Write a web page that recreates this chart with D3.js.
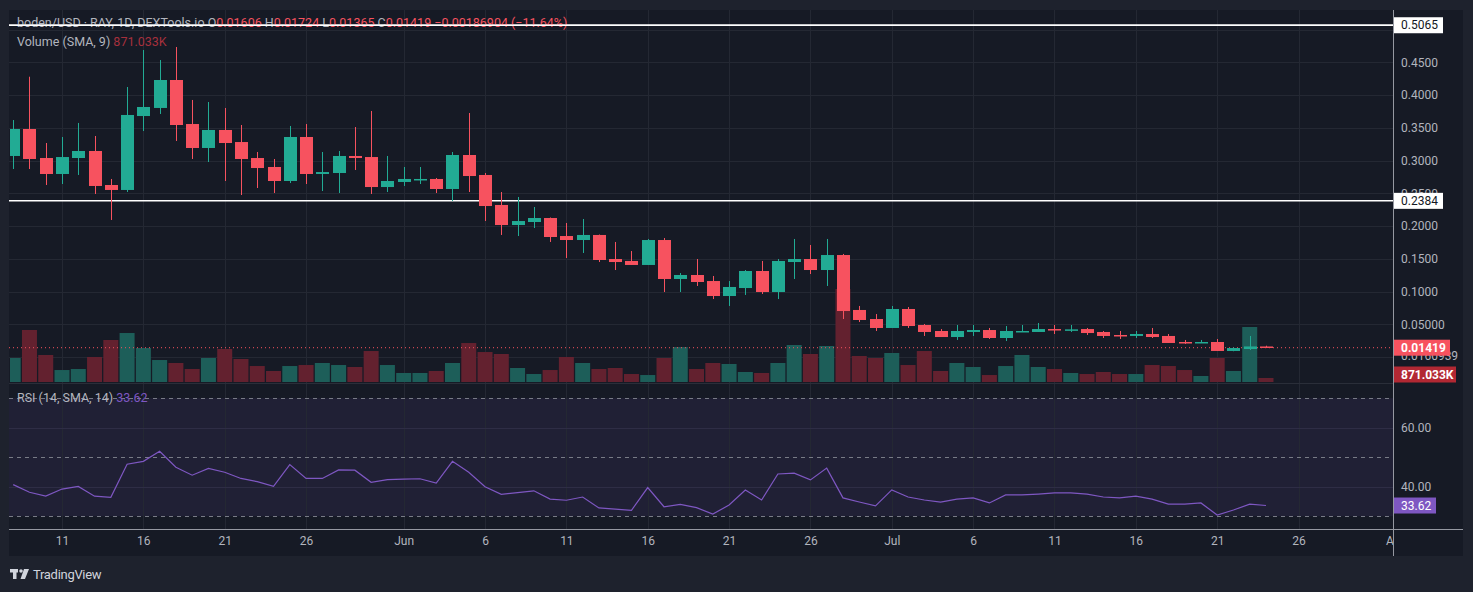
<!DOCTYPE html>
<html>
<head>
<meta charset="utf-8">
<script src="https://cdn.jsdelivr.net/npm/d3@7"></script>
<style>
  html, body { margin: 0; padding: 0; background: #1e222d; }
  svg { display: block; }
  text { font-family: Roboto, "Noto Sans", sans-serif; }
</style>
</head>
<body>
<svg id="chart" width="1473" height="592"></svg>
<script>
// boden/USD daily candles, 8 May - 24 Jul
var firstDay = Date.UTC(2024, 4, 8);
var lastDay = Date.UTC(2024, 7, 1);

var opens = [0.3069, 0.3481, 0.3038, 0.2794, 0.3038, 0.3145, 0.2626, 0.2550, 0.3679, 0.3802,
  0.4229, 0.3557, 0.3191, 0.3466, 0.3282, 0.3038, 0.2901, 0.2687, 0.3359, 0.2794,
  0.2809, 0.3069, 0.3053, 0.2595, 0.2672, 0.2702, 0.2718, 0.2565, 0.3084, 0.2779,
  0.2321, 0.2015, 0.2061, 0.2122, 0.1847, 0.1786, 0.1863, 0.1496, 0.1466, 0.1405,
  0.1786, 0.1191, 0.1252, 0.1160, 0.0931, 0.1053, 0.1313, 0.0992, 0.1450, 0.1496,
  0.1328, 0.1557, 0.0718, 0.0580, 0.0443, 0.0733, 0.0489, 0.0397, 0.0305, 0.0382,
  0.0412, 0.0290, 0.0382, 0.0382, 0.0427, 0.0412, 0.0427, 0.0382, 0.0336, 0.0321,
  0.0351, 0.0321, 0.0229, 0.0214, 0.0229, 0.0092, 0.0122, 0.01606];
var highs = [0.3618, 0.4279, 0.3267, 0.3359, 0.3573, 0.3374, 0.2718, 0.4122, 0.4687, 0.4534,
  0.4733, 0.3924, 0.3893, 0.3802, 0.3542, 0.3130, 0.3023, 0.3527, 0.3557, 0.3130,
  0.3145, 0.3511, 0.3756, 0.3069, 0.2901, 0.2901, 0.2733, 0.3130, 0.3725, 0.2809,
  0.2519, 0.2443, 0.2290, 0.2130, 0.2046, 0.2107, 0.1870, 0.1756, 0.1618, 0.1802,
  0.1817, 0.1282, 0.1496, 0.1237, 0.1160, 0.1328, 0.1466, 0.1496, 0.1802, 0.1710,
  0.1802, 0.1573, 0.0779, 0.0656, 0.0779, 0.0763, 0.0504, 0.0427, 0.0489, 0.0489,
  0.0443, 0.0473, 0.0489, 0.0519, 0.0489, 0.0489, 0.0443, 0.0397, 0.0397, 0.0397,
  0.0443, 0.0351, 0.0260, 0.0260, 0.0275, 0.0145, 0.0321, 0.01724];
var lows = [0.2870, 0.2870, 0.2626, 0.2641, 0.2779, 0.2489, 0.2092, 0.2519, 0.3450, 0.3710,
  0.3298, 0.3023, 0.2977, 0.2687, 0.2473, 0.2580, 0.2504, 0.2656, 0.2641, 0.2534,
  0.2504, 0.2855, 0.2489, 0.2519, 0.2611, 0.2641, 0.2504, 0.2382, 0.2519, 0.2076,
  0.1863, 0.1847, 0.1969, 0.1756, 0.1511, 0.1588, 0.1450, 0.1328, 0.1405, 0.1405,
  0.0992, 0.0992, 0.1084, 0.0885, 0.0779, 0.0947, 0.0962, 0.0885, 0.1191, 0.1267,
  0.1084, 0.0580, 0.0534, 0.0397, 0.0443, 0.0443, 0.0321, 0.0305, 0.0260, 0.0321,
  0.0275, 0.0244, 0.0382, 0.0382, 0.0351, 0.0382, 0.0336, 0.0290, 0.0275, 0.0290,
  0.0290, 0.0214, 0.0198, 0.0214, 0.0092, 0.0088, 0.0107, 0.01365];
var closes = [0.3481, 0.3023, 0.2794, 0.3053, 0.3145, 0.2611, 0.2550, 0.3695, 0.3817, 0.4229,
  0.3542, 0.3191, 0.3466, 0.3267, 0.3023, 0.2885, 0.2687, 0.3359, 0.2794, 0.2824,
  0.3069, 0.3038, 0.2595, 0.2687, 0.2718, 0.2718, 0.2565, 0.3084, 0.2763, 0.2305,
  0.2015, 0.2076, 0.2122, 0.1832, 0.1786, 0.1863, 0.1481, 0.1450, 0.1405, 0.1786,
  0.1191, 0.1252, 0.1145, 0.0931, 0.1069, 0.1313, 0.0992, 0.1466, 0.1496, 0.1328,
  0.1557, 0.0702, 0.0565, 0.0443, 0.0733, 0.0473, 0.0382, 0.0305, 0.0397, 0.0412,
  0.0290, 0.0397, 0.0397, 0.0427, 0.0412, 0.0422, 0.0366, 0.0321, 0.0321, 0.0351,
  0.0305, 0.0214, 0.0214, 0.0229, 0.0092, 0.0137, 0.0161, 0.01419];
// volume in millions
var volumes = [5.23, 11.33, 5.88, 2.61, 2.83, 5.45, 9.15, 10.67, 7.41, 4.79,
  4.14, 2.83, 5.23, 7.19, 5.01, 3.48, 2.40, 3.48, 3.70, 4.14,
  3.70, 3.27, 6.75, 3.70, 1.96, 1.96, 2.40, 4.14, 8.49, 6.53,
  6.10, 3.05, 1.74, 2.61, 5.45, 4.14, 2.83, 3.05, 1.74, 1.52,
  5.23, 7.62, 2.83, 4.14, 3.92, 2.18, 1.96, 4.14, 8.06, 6.10,
  7.84, 20.26, 5.66, 5.23, 6.32, 3.70, 6.75, 2.40, 4.14, 3.27,
  1.52, 3.48, 5.88, 3.27, 2.83, 1.96, 1.74, 2.18, 1.74, 1.74,
  3.70, 3.48, 2.61, 1.31, 5.23, 2.40, 11.98, 0.871];
var rsiValues = [40.7, 38.1, 36.8, 39.2, 40.1, 36.8, 36.4, 47.6, 48.6, 52.0,
  46.6, 43.9, 46.2, 44.9, 42.8, 41.7, 40.1, 47.5, 42.8, 42.8,
  45.7, 45.6, 41.5, 42.4, 42.6, 42.7, 41.2, 48.6, 44.9, 40.0,
  37.4, 38.0, 38.6, 35.8, 35.4, 36.5, 32.8, 32.4, 32.0, 39.7,
  33.2, 34.0, 32.9, 30.7, 33.8, 38.9, 35.5, 44.3, 44.6, 42.3,
  46.3, 36.2, 34.8, 33.5, 38.9, 36.5, 35.5, 34.8, 35.8, 36.2,
  34.5, 37.2, 37.2, 37.5, 37.9, 37.9, 37.5, 36.5, 36.2, 36.8,
  35.8, 34.1, 34.1, 34.5, 30.4, 32.1, 34.1, 33.62];

var priceTicks = [0.05, 0.10, 0.15, 0.20, 0.25, 0.30, 0.35, 0.40, 0.45];
var priceTickLabels = ["0.05000", "0.1000", "0.1500", "0.2000", "0.2500", "0.3000", "0.3500", "0.4000", "0.4500"];
var priceGrid = [0, 0.05, 0.10, 0.15, 0.20, 0.25, 0.30, 0.35, 0.40, 0.45, 0.50];
var rsiTicks = [40, 60];
var rsiTickLabels = ["40.00", "60.00"];
var rsiBands = [30, 50, 70];
var timeTicks = [[2024, 4, 11], [2024, 4, 16], [2024, 4, 21], [2024, 4, 26], [2024, 5, 1], [2024, 5, 6],
  [2024, 5, 11], [2024, 5, 16], [2024, 5, 21], [2024, 5, 26], [2024, 6, 1], [2024, 6, 6], [2024, 6, 11],
  [2024, 6, 16], [2024, 6, 21], [2024, 6, 26], [2024, 7, 1]];
var timeTickLabels = ["11", "16", "21", "26", "Jun", "6", "11", "16", "21", "26", "Jul", "6", "11", "16", "21", "26", "Aug"];
var levelLines = [0.5065, 0.2384];
var levelLabels = ["0.5065", "0.2384"];
var lastPrice = 0.01419;

var UP = "#22ab94", DOWN = "#f7525f";
var VOL_UP = "#1d5e59", VOL_DOWN = "#63212f";
var TXT = "#b2b5be", GRID = "#242833";

var svg = d3.select("#chart");
var left = 9, right = 1393, paneTop = 10, axisRight = 1463, mainBottom = 382, rsiTop = 384, rsiBottom = 529, timeBottom = 556;

var dates = d3.range(opens.length).map(function (i) { return new Date(firstDay + i * 864e5); });
var tickDates = timeTicks.map(function (t) { return new Date(Date.UTC(t[0], t[1], t[2])); });

var x = d3.scaleUtc().domain([new Date(firstDay), new Date(lastDay)]).range([13.2, 13.2 + 85 * 16.27]);
var y = d3.scaleLinear().domain([0, 0.5]).range([357, 29.5]);
var yVol = d3.scaleLinear().domain([0, 21]).range([382, 382 - 21 / 0.2178]);
var yRsi = d3.scaleLinear().domain([30, 70]).range([516.2, 398.2]);

// backgrounds
svg.append("rect").attr("x", 0).attr("y", 0).attr("width", 1473).attr("height", 592).attr("fill", "#1e222d");
svg.append("rect").attr("x", left).attr("y", paneTop).attr("width", axisRight - left).attr("height", timeBottom - paneTop).attr("fill", "#161a25");
svg.append("rect").attr("x", left).attr("y", yRsi(70)).attr("width", right - left).attr("height", yRsi(30) - yRsi(70)).attr("fill", "rgba(126,87,194,0.1)");

var defs = svg.append("defs");
defs.append("clipPath").attr("id", "mainClip").append("rect").attr("x", left + 1).attr("y", paneTop).attr("width", right - left - 1).attr("height", mainBottom - paneTop);
defs.append("clipPath").attr("id", "rsiClip").append("rect").attr("x", left + 1).attr("y", rsiTop).attr("width", right - left - 1).attr("height", rsiBottom - rsiTop);
defs.append("clipPath").attr("id", "timeClip").append("rect").attr("x", left).attr("y", rsiBottom).attr("width", right - left).attr("height", timeBottom - rsiBottom);

// grid
var grid = svg.append("g");
grid.selectAll(".vg").data(tickDates.slice(0, 16)).enter().append("line")
  .attr("x1", function (d) { return Math.round(x(d)) + 0.5; }).attr("x2", function (d) { return Math.round(x(d)) + 0.5; })
  .attr("y1", paneTop).attr("y2", rsiBottom).attr("stroke", GRID);
grid.selectAll(".hg").data(priceGrid).enter().append("line")
  .attr("x1", left).attr("x2", right)
  .attr("y1", function (d) { return Math.round(y(d)) + 0.5; }).attr("y2", function (d) { return Math.round(y(d)) + 0.5; })
  .attr("stroke", GRID);
grid.selectAll(".rg").data(rsiTicks).enter().append("line")
  .attr("x1", left).attr("x2", right)
  .attr("y1", function (d) { return Math.round(yRsi(d)) + 0.5; }).attr("y2", function (d) { return Math.round(yRsi(d)) + 0.5; })
  .attr("stroke", "#2e2d45");
// pane separator
svg.append("line").attr("x1", left).attr("x2", right).attr("y1", 383.5).attr("y2", 383.5).attr("stroke", "#2a2e39");

// volume
var vol = svg.append("g").attr("clip-path", "url(#mainClip)");
vol.selectAll("rect").data(volumes).enter().append("rect")
  .attr("x", function (d, i) { return x(dates[i]) - 7.5; })
  .attr("width", 15)
  .attr("y", function (d) { return yVol(d); })
  .attr("height", function (d) { return yVol(0) - yVol(d); })
  .attr("fill", function (d, i) { return closes[i] >= opens[i] ? VOL_UP : VOL_DOWN; });

// level lines
svg.selectAll(".lvl").data(levelLines).enter().append("line")
  .attr("x1", left).attr("x2", right)
  .attr("y1", function (d) { return y(d); }).attr("y2", function (d) { return y(d); })
  .attr("stroke", "#ffffff").attr("stroke-width", 1.5);

// last price dotted line
svg.append("line").attr("x1", left).attr("x2", right)
  .attr("y1", y(lastPrice)).attr("y2", y(lastPrice))
  .attr("stroke", DOWN).attr("stroke-width", 1).attr("stroke-dasharray", "1,3");

// candles
var candles = svg.append("g").attr("clip-path", "url(#mainClip)");
var c = candles.selectAll("g").data(opens).enter().append("g");
c.append("line")
  .attr("x1", function (d, i) { return Math.round(x(dates[i])) + 0.5; })
  .attr("x2", function (d, i) { return Math.round(x(dates[i])) + 0.5; })
  .attr("y1", function (d, i) { return y(highs[i]); })
  .attr("y2", function (d, i) { return y(lows[i]); })
  .attr("stroke", function (d, i) { return closes[i] >= opens[i] ? UP : DOWN; });
c.append("rect")
  .attr("x", function (d, i) { return Math.round(x(dates[i])) - 6; })
  .attr("width", 13)
  .attr("y", function (d, i) { return y(Math.max(opens[i], closes[i])); })
  .attr("height", function (d, i) { return Math.max(1.5, Math.abs(y(opens[i]) - y(closes[i]))); })
  .attr("fill", function (d, i) { return closes[i] >= opens[i] ? UP : DOWN; });

// rsi bands
svg.selectAll(".band").data(rsiBands).enter().append("line")
  .attr("x1", left).attr("x2", right)
  .attr("y1", function (d) { return Math.round(yRsi(d)) + 0.5; }).attr("y2", function (d) { return Math.round(yRsi(d)) + 0.5; })
  .attr("stroke", "#787b86").attr("stroke-dasharray", "4,4");

var rsiLine = d3.line().x(function (d, i) { return x(dates[i]); }).y(function (d) { return yRsi(d); });
svg.append("path").attr("clip-path", "url(#rsiClip)").datum(rsiValues)
  .attr("d", rsiLine).attr("fill", "none").attr("stroke", "#7e57c2").attr("stroke-width", 1.2);

// axes borders
svg.append("line").attr("x1", right + 0.5).attr("x2", right + 0.5).attr("y1", paneTop).attr("y2", timeBottom).attr("stroke", "#9598a1");
svg.append("line").attr("x1", left).attr("x2", axisRight).attr("y1", rsiBottom + 0.5).attr("y2", rsiBottom + 0.5).attr("stroke", "#9598a1");

// price axis
var priceAxis = svg.append("g").attr("transform", "translate(" + right + ",0)")
  .call(d3.axisRight(y).tickValues(priceTicks).tickSize(0).tickPadding(8)
    .tickFormat(function (d, i) { return priceTickLabels[i]; }));
priceAxis.select(".domain").remove();
priceAxis.selectAll("text").attr("fill", TXT).style("font-size", "12px").style("font-family", "Roboto, sans-serif");

var rsiAxis = svg.append("g").attr("transform", "translate(" + right + ",0)")
  .call(d3.axisRight(yRsi).tickValues(rsiTicks).tickSize(0).tickPadding(8)
    .tickFormat(function (d, i) { return rsiTickLabels[i]; }));
rsiAxis.select(".domain").remove();
rsiAxis.selectAll("text").attr("fill", TXT).style("font-size", "12px").style("font-family", "Roboto, sans-serif");

// time axis
var timeAxis = svg.append("g").attr("clip-path", "url(#timeClip)").append("g").attr("transform", "translate(0," + rsiBottom + ")")
  .call(d3.axisBottom(x).tickValues(tickDates).tickSize(0).tickPadding(7)
    .tickFormat(function (d, i) { return timeTickLabels[i]; }));
timeAxis.select(".domain").remove();
timeAxis.selectAll("text").attr("fill", TXT).style("font-size", "12px").style("font-family", "Roboto, sans-serif");

// price labels on the axis
function axisTag(val, yPos, w, bg, fg, bold) {
  svg.append("rect").attr("x", right + 1).attr("y", yPos - 8).attr("width", w).attr("height", 16).attr("fill", bg);
  svg.append("text").attr("x", right + 8).attr("y", yPos + 4).attr("fill", fg)
    .style("font-size", "12px").style("font-weight", bold ? "bold" : "normal").text(val);
}
svg.append("text").attr("x", right + 8).attr("y", 360).attr("fill", TXT).style("font-size", "12px").text("0.0160939");
levelLines.forEach(function (d, i) { axisTag(levelLabels[i], y(d), 49, "#ffffff", "#131722", false); });
axisTag("0.01419", y(lastPrice), 56, DOWN, "#ffffff", true);
axisTag("871.033K", 374.5, 62, "#b22833", "#ffffff", true);
axisTag("33.62", yRsi(33.62), 42, "#7e57c2", "#ffffff", false);

// legends
var h1 = svg.append("text").attr("x", 17).attr("y", 27).style("font-size", "12.5px").attr("fill", TXT);
h1.append("tspan").text("boden/USD · RAY, 1D, DEXTools.io  O");
h1.append("tspan").attr("fill", DOWN).text("0.01606");
h1.append("tspan").text(" H");
h1.append("tspan").attr("fill", DOWN).text("0.01724");
h1.append("tspan").text(" L");
h1.append("tspan").attr("fill", DOWN).text("0.01365");
h1.append("tspan").text(" C");
h1.append("tspan").attr("fill", DOWN).text("0.01419  −0.00186904 (−11.64%)");
// the 0.5065 line runs over the legend
svg.append("line").attr("x1", left).attr("x2", right).attr("y1", y(0.5065)).attr("y2", y(0.5065)).attr("stroke", "#ffffff").attr("stroke-width", 1.5);

var h2 = svg.append("text").attr("x", 17).attr("y", 46).style("font-size", "12.5px").attr("fill", TXT);
h2.append("tspan").text("Volume (SMA, 9)  ");
h2.append("tspan").attr("fill", "#a6303d").text("871.033K");

var h3 = svg.append("text").attr("x", 17).attr("y", 402).style("font-size", "12.5px").attr("fill", TXT);
h3.append("tspan").text("RSI (14, SMA, 14)  ");
h3.append("tspan").attr("fill", "#7e57c2").text("33.62");

// logo
var logo = svg.append("g").attr("transform", "translate(10,569)");
logo.append("rect").attr("x", 0).attr("y", 0).attr("width", 8).attr("height", 3.5).attr("fill", "#d1d4dc");
logo.append("rect").attr("x", 3).attr("y", 0).attr("width", 3.5).attr("height", 10).attr("fill", "#d1d4dc");
logo.append("circle").attr("cx", 11).attr("cy", 2).attr("r", 1.8).attr("fill", "#d1d4dc");
logo.append("path").attr("d", "M14,0 L19,0 L15,10 L10.5,10 Z").attr("fill", "#d1d4dc");
svg.append("text").attr("x", 33).attr("y", 579).attr("fill", "#d1d4dc").style("font-size", "13px").style("letter-spacing", "-0.3px").text("TradingView");
</script>
</body>
</html>
